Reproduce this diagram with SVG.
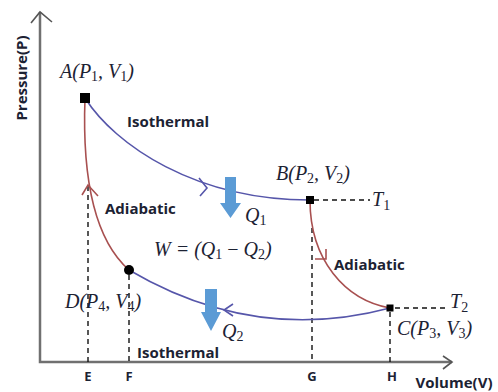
<svg xmlns="http://www.w3.org/2000/svg" width="498" height="392" viewBox="0 0 498 392">
<style>
.lbl{font-family:"Open Sans","Liberation Sans",sans-serif;font-weight:bold;font-size:15px;fill:#1c2233}
.tick{font-family:"Open Sans","Liberation Sans",sans-serif;font-weight:bold;font-size:13px;fill:#1c2233}
.m{font-family:"Liberation Serif","Times New Roman",serif;font-style:italic;font-size:20px;fill:#1c2233}
.s{font-style:normal;font-size:14px}
.axis{stroke:#707070;stroke-width:2.5;fill:none}
.axhead{stroke:#555;stroke-width:1.6;fill:none}
.dash{stroke:#111;stroke-width:1.4;stroke-dasharray:5 4;fill:none}
.iso{stroke:#5656aa;stroke-width:1.6;fill:none}
.adi{stroke:#a85050;stroke-width:1.6;fill:none}
.heat{fill:#5b9bd5}
</style>
<g id="axes">
<polyline class="axis" points="40,12 40,362 452,362"/>
<polyline class="axhead" points="31,23 40,12 52,22"/>
<polyline class="axhead" points="443,356 452,362 443,369"/>
<text class="lbl" transform="translate(27,78) rotate(-90)" text-anchor="middle">Pressure(P)</text>
<text class="lbl" x="454" y="388" text-anchor="middle">Volume(V)</text>
<text class="tick" x="88" y="381" text-anchor="middle">E</text>
<text class="tick" x="129" y="381" text-anchor="middle">F</text>
<text class="tick" x="312" y="381" text-anchor="middle">G</text>
<text class="tick" x="392" y="381" text-anchor="middle">H</text>
</g>
<g id="connectors">
<line class="dash" x1="88" y1="186" x2="88" y2="362"/>
<line class="dash" x1="129" y1="275" x2="129" y2="362"/>
<line class="dash" x1="312" y1="228" x2="312" y2="362"/>
<line class="dash" x1="390" y1="312" x2="390" y2="362"/>
<line class="dash" x1="314" y1="200" x2="370" y2="200"/>
<line class="dash" x1="395" y1="308" x2="447" y2="308"/>
<path class="iso" d="M85,98 C115,145 195,200 310,200"/>
<path class="iso" d="M390,308 C270,340 180,300 129,270"/>
<path class="adi" d="M85,98 C82,180 95,240 129,270"/>
<path class="adi" d="M310,200 C310,260 345,300 390,308"/>
<polyline class="iso" points="199,178 207,188 200,196"/>
<polyline class="iso" points="233,304 224,310 233,316"/>
<polyline class="adi" points="82,195 88,185 98,196"/>
<polyline class="adi" points="315,259 326,259 326,249"/>
</g>
<g id="A">
<rect x="80" y="93" width="10" height="10" fill="#000"/>
<text class="m" x="60" y="78">A(P<tspan class="s" dy="3">1</tspan><tspan dy="-3">, V</tspan><tspan class="s" dy="3">1</tspan><tspan dy="-3">)</tspan></text>
</g>
<g id="B">
<rect x="306" y="196" width="8" height="8" fill="#000"/>
<text class="m" x="276" y="180">B(P<tspan class="s" dy="3">2</tspan><tspan dy="-3">, V</tspan><tspan class="s" dy="3">2</tspan><tspan dy="-3">)</tspan></text>
<text class="m" x="372" y="206">T<tspan class="s" dy="4">1</tspan></text>
</g>
<g id="C">
<rect x="386.5" y="304.5" width="7" height="7" fill="#000"/>
<text class="m" x="397" y="335">C(P<tspan class="s" dy="3">3</tspan><tspan dy="-3">, V</tspan><tspan class="s" dy="3">3</tspan><tspan dy="-3">)</tspan></text>
<text class="m" x="450" y="308">T<tspan class="s" dy="4">2</tspan></text>
</g>
<g id="D">
<circle cx="129" cy="270" r="5" fill="#000"/>
<text class="m" x="65" y="308">D(P<tspan class="s" dy="3">4</tspan><tspan dy="-3">, V</tspan><tspan class="s" dy="3">4</tspan><tspan dy="-3">)</tspan></text>
</g>
<g id="labels">
<text class="lbl" x="127" y="127">Isothermal</text>
<text class="lbl" x="137" y="358">Isothermal</text>
<text class="lbl" x="105" y="214">Adiabatic</text>
<text class="lbl" x="334" y="270">Adiabatic</text>
<text class="m" x="154" y="256">W = (Q<tspan class="s" dy="3">1</tspan><tspan dy="-3" font-style="normal"> − </tspan>Q<tspan class="s" dy="3">2</tspan><tspan dy="-3">)</tspan></text>
</g>
<g id="Q1">
<path class="heat" d="M225,177 H236 V203 H241 L230.5,218 L220,203 H225 Z"/>
<text class="m" x="245" y="222">Q<tspan class="s" dy="3">1</tspan></text>
</g>
<g id="Q2">
<path class="heat" d="M205,289 H217 V312 H221 L211,331 L201,312 H205 Z"/>
<text class="m" x="222" y="338">Q<tspan class="s" dy="3">2</tspan></text>
</g>
</svg>
